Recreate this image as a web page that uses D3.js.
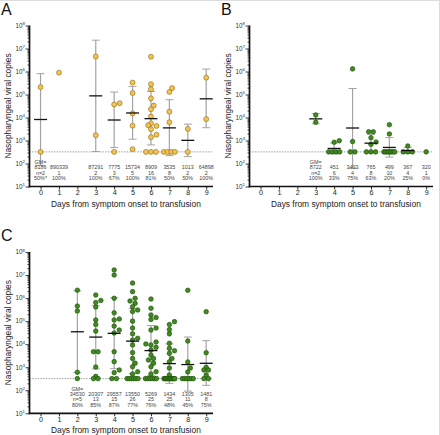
<!DOCTYPE html>
<html><head><meta charset="utf-8">
<script src="https://cdn.jsdelivr.net/npm/d3@7"></script>
<style>body{margin:0;background:#fff}svg{display:block;font-family:"Liberation Sans",Arial,Helvetica,sans-serif}</style>
</head><body><svg id="c" width="440" height="435"></svg>
<script>
// ---------- data ----------
const days = [0,1,2,3,4,5,6,7,8,9];
const LOD = 320;
const yDecades = [1e1,1e2,1e3,1e4,1e5,1e6,1e7,1e8];
const xTitle = "Days from symptom onset to transfusion";
const yTitle = "Nasopharyngeal viral copies";

// Panel A
const aValues = [
  [2.1e5, 320],
  [8.9e5],
  [],
  [4.5e6, 1700],
  [4.2e4, 3.7e4, 320],
  [3.3e5, 1.15e5, 1.5e4, 4400, 420],
  [4.4e6, 2.8e5, 1.7e5, 6.8e4, 3.3e4, 2.3e4, 1.1e4, 5600, 4600, 4300, 3100, 1800, 1400, 320, 320, 320],
  [1.9e5, 1.3e5, 1.8e4, 6200, 320, 320, 320, 320],
  [3200, 320],
  [5.4e5, 8500]
];
const aGM  = [8186, 890339, null, 87291, 7775, 15734, 8909, 3535, 1013, 64898];
const aN   = [2, 1, 0, 2, 3, 5, 16, 8, 2, 2];
const aPct = ["50%*", "100%", "", "100%", "67%", "100%", "81%", "50%", "50%", "100%"];

// Panel B
const bValues = [
  [], [], [],
  [1.29e4, 6200],
  [980, 840, 320, 320, 320, 320],
  [1.3e6, 900, 320, 320],
  [2400, 2400, 1320, 860, 680, 320, 320, 320],
  [4860, 1920, 320, 320, 320, 320, 320, 320, 320, 320],
  [577, 320, 320, 320],
  [320]
];
const bGM  = [null, null, null, 8722, 451, 3493, 765, 499, 367, 320];
const bN   = [0, 0, 0, 2, 6, 4, 8, 10, 4, 1];
const bPct = ["", "", "", "100%", "33%", "75%", "63%", "20%", "25%", "0%"];

// Panel C
const cValues = [
  [], [],
  [2.2e6, 4.5e5, 2.75e5, 600, 320],
  [1.36e6, 7.9e5, 6.4e5, 4.1e5, 1.12e5, 7.1e4, 3.7e4, 4700, 4700, 1020, 400, 320, 320],
  [1.66e7, 1.0e7, 9.8e5, 2.3e5, 1.24e5, 1.12e5, 6.1e4, 4.1e4, 3.05e4, 4700, 1740, 760, 580, 320, 320],
  [4.5e6, 1.9e6, 9.8e5, 7.5e5, 5.9e5, 4.2e5, 3.05e5, 2.6e5, 1.0e5, 5.0e4, 2.8e4, 1.8e4, 1.5e4, 9200, 4300, 2400, 1500, 1050, 640, 510, 320, 320, 320, 320, 320, 320],
  [9.1e5, 3.6e5, 1.85e5, 1.44e5, 1.18e5, 5.0e4, 4.1e4, 1.24e4, 1.02e4, 9200, 7300, 5600, 3400, 2400, 2050, 1500, 1050, 640, 510, 320, 320, 320, 320, 320, 320],
  [9.5e4, 7.1e4, 4.3e4, 2.8e4, 1.09e4, 6600, 5200, 4000, 2400, 1700, 920, 460, 320, 320, 320, 320, 320, 320, 320, 320, 320, 320, 320, 320, 320],
  [2.18e6, 1.37e4, 1690, 925, 621, 320, 320, 320, 320, 320, 320],
  [2.57e5, 4270, 993, 757, 757, 460, 320, 320]
];
const cGM  = [null, null, 34530, 20307, 29557, 13550, 5269, 1434, 1305, 1481];
const cN   = [0, 0, 5, 13, 15, 26, 25, 25, 11, 8];
const cPct = ["", "", "80%", "85%", "87%", "77%", "76%", "48%", "45%", "75%"];

// ---------- drawing ----------
const svg = d3.select("#c");
svg.append("line").attr("x1",0).attr("x2",440).attr("y1",0.5).attr("y2",0.5).attr("stroke","#dcdcdc");
svg.append("line").attr("x1",439.5).attr("x2",439.5).attr("y1",0).attr("y2",435).attr("stroke","#dcdcdc");

const panels = [
  {letter:"A", values:aValues, gm:aGM, n:aN, pct:aPct, ox:0,   yb:186.5, yt:25.5,  titleOff:20.8, fill:"#f4c24f", stroke:"#8c6b1c", r:2.5},
  {letter:"B", values:bValues, gm:bGM, n:bN, pct:bPct, ox:220, yb:186.5, yt:25.5,  titleOff:20.8, fill:"#3f8b1d", stroke:"#1d4a08", r:2.3},
  {letter:"C", values:cValues, gm:cGM, n:cN, pct:cPct, ox:0,   yb:413.3, yt:252.0, titleOff:19.2, fill:"#3f8b1d", stroke:"#1d4a08", r:2.3}
];

function swarm(vals, y, r) {
  const d = 2*r + 0.5;
  const maxW = 5.5;
  const pts = vals.map(v => ({v, y:y(v), dx:0}));
  const placed = [];
  const groups = d3.groups(pts, p => p.v).sort((a,b)=>b[1][0].y - a[1][0].y);
  groups.forEach(([v, g]) => {
    if (g.length > 1) {
      const sp = Math.min(d*0.9, 2*maxW/(g.length-1));
      g.forEach((p,i) => { p.dx = (i-(g.length-1)/2)*sp; placed.push(p); });
    } else {
      const p = g[0];
      const step = d*0.5;
      let best = 0, bestScore = -1;
      for (let k=0; k<30; k++) {
        const cand = (k===0) ? 0 : (k%2 ? 1 : -1)*Math.ceil(k/2)*step;
        if (Math.abs(cand) > maxW) break;
        const md = placed.length ? d3.min(placed, q => Math.hypot(q.dx-cand, q.y-p.y)) : Infinity;
        if (md >= d*0.8) { best = cand; bestScore = Infinity; break; }
        if (md > bestScore + 0.8) { bestScore = md; best = cand; }
      }
      p.dx = best;
      placed.push(p);
    }
  });
  return pts;
}

panels.forEach(P => {
  const g = svg.append("g");
  const x = d3.scaleLinear().domain([-0.6, 9.37]).range([P.ox+29.5, P.ox+213]);
  const y = d3.scaleLog().domain([10, 1e8]).range([P.yb, P.yt]);
  const ax = x(-0.6), axEnd = x(9.37);

  g.append("text").attr("x", P.ox+1).attr("y", P.yt-11).attr("font-size",16).attr("fill","#111").text(P.letter);

  g.append("line").attr("x1",ax).attr("x2",axEnd).attr("y1",y(LOD)).attr("y2",y(LOD))
    .attr("stroke","#8a8a8a").attr("stroke-width",0.8).attr("stroke-dasharray","1.5,1.2");

  // error bars: geometric mean ± SD on log scale
  days.forEach((d,i) => {
    const vals = P.values[i];
    if (vals.length < 2) return;
    const logs = vals.map(Math.log10);
    const m = d3.mean(logs), sd = d3.deviation(logs);
    const hi = Math.pow(10, m+sd), lo = Math.pow(10, m-sd);
    const cx = x(d);
    g.append("line").attr("x1",cx).attr("x2",cx).attr("y1",y(hi)).attr("y2",y(lo))
      .attr("stroke","#a3a3a3").attr("stroke-width",1.2);
    [hi, lo].forEach(v => g.append("line").attr("x1",cx-4).attr("x2",cx+4).attr("y1",y(v)).attr("y2",y(v))
      .attr("stroke","#a3a3a3").attr("stroke-width",1));
  });

  days.forEach((d,i) => {
    const pts = swarm(P.values[i], y, P.r);
    g.selectAll(null).data(pts).enter().append("circle")
      .attr("cx", p => x(d)+p.dx).attr("cy", p => p.y).attr("r", P.r)
      .attr("fill", P.fill).attr("stroke", P.stroke).attr("stroke-width", 0.6);
  });

  days.forEach((d,i) => {
    if (P.n[i] < 2) return;
    g.append("line").attr("x1",x(d)-6.5).attr("x2",x(d)+6.5).attr("y1",y(P.gm[i])).attr("y2",y(P.gm[i]))
      .attr("stroke","#111").attr("stroke-width",1.3);
  });

  const minor = [];
  for (let e=1; e<8; e++) for (let k=2; k<10; k++) minor.push(k*Math.pow(10,e));
  const yMinor = g.append("g").attr("transform",`translate(${ax},0)`)
    .call(d3.axisLeft(y).tickValues(minor).tickSize(2).tickFormat(""));
  const yMajor = g.append("g").attr("transform",`translate(${ax},0)`)
    .call(d3.axisLeft(y).tickValues(yDecades).tickSize(4).tickFormat(""));
  [yMinor, yMajor].forEach(s => {
    s.select(".domain").remove();
    s.selectAll("line").attr("stroke","#111").attr("stroke-width",0.8);
  });
  g.append("line").attr("x1",ax).attr("x2",ax).attr("y1",P.yt).attr("y2",P.yb+0.8).attr("stroke","#111").attr("stroke-width",1.7);
  yDecades.forEach(v => {
    const t = g.append("text").attr("x", ax-4.5).attr("y", y(v)+2.3).attr("text-anchor","end")
      .attr("font-size",6.3).attr("fill","#333");
    t.append("tspan").text("10");
    t.append("tspan").attr("font-size",4.4).attr("dy",-2.6).text(String(Math.round(Math.log10(v))));
  });

  const xa = g.append("g").attr("transform",`translate(0,${P.yb})`)
    .call(d3.axisBottom(x).tickValues(days).tickSize(3).tickFormat(d3.format("d")));
  xa.select(".domain").remove();
  xa.selectAll("line").attr("stroke","#111").attr("stroke-width",0.9);
  xa.selectAll("text").attr("font-size",7.2).attr("fill","#222").attr("font-family","Liberation Sans, Arial, sans-serif")
    .attr("dy",null).attr("y",8.8);
  g.append("line").attr("x1",ax-0.8).attr("x2",axEnd).attr("y1",P.yb).attr("y2",P.yb).attr("stroke","#111").attr("stroke-width",1.7);

  let first = true;
  days.forEach((d,i) => {
    if (P.n[i] < 1) return;
    const cx = x(d);
    const ann = (txt, off) => g.append("text").attr("x",cx).attr("y",P.yb-off).attr("text-anchor","middle")
      .attr("font-size",5.4).attr("fill","#444").text(txt);
    if (first) ann("GM=", 22.5);
    ann(String(P.gm[i]), 17.3);
    ann((first ? "n=" : "") + P.n[i], 12);
    ann(P.pct[i], 6.6);
    first = false;
  });

  g.append("text").attr("x", (x(0)+x(9))/2 + 2.5).attr("y", P.yb+P.titleOff).attr("text-anchor","middle")
    .attr("font-size",8.4).attr("fill","#222").text(xTitle);
  g.append("text").attr("transform",`translate(${P.ox+10.5},${(P.yt+P.yb)/2}) rotate(-90)`)
    .attr("text-anchor","middle").attr("font-size",8.4).attr("fill","#222").text(yTitle);
});
</script></body></html>
